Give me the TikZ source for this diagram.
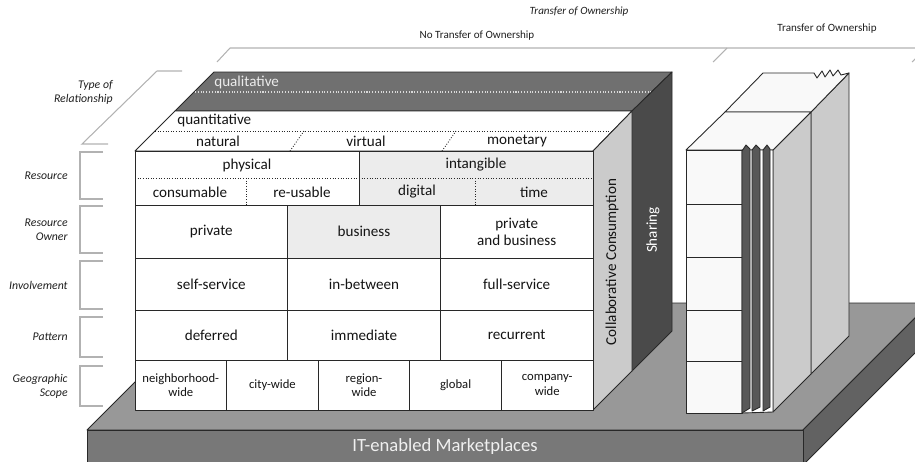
\documentclass[tikz,border=0pt]{standalone}
\usepackage{fontspec}
\setmainfont{Carlito}
\usetikzlibrary{positioning}

\definecolor{edgegray}{RGB}{40,40,40}
\definecolor{qualgray}{RGB}{112,112,112}
\definecolor{sharegray}{RGB}{74,74,74}
\definecolor{collgray}{RGB}{203,203,203}
\definecolor{cellgray}{RGB}{236,236,236}
\definecolor{basetop}{RGB}{152,152,152}
\definecolor{basefront}{RGB}{120,120,120}
\definecolor{baseside}{RGB}{98,98,98}
\definecolor{pagegray}{RGB}{88,88,88}
\definecolor{bracegray}{RGB}{178,178,178}
\definecolor{paper}{RGB}{249,249,249}

\begin{document}
\begin{tikzpicture}[x=0.02cm, y=-0.02cm,
    face/.style={draw=edgegray, line width=0.5pt, line join=round},
    sep/.style={edgegray, line width=0.5pt, densely dotted},
    cell/.style={font=\fontsize{8.6}{9.8}\selectfont, text=black!92, align=center, inner sep=0pt},
    geo/.style={font=\fontsize{7.2}{8.2}\selectfont, text=black!92, align=center, inner sep=0pt},
    dimlabel/.style={font=\fontsize{6.7}{8}\selectfont\itshape, text=black!88, align=right, anchor=east, inner sep=0pt},
    toplabel/.style={font=\fontsize{6.3}{7.5}\selectfont, text=black!88, inner sep=0pt},
    brace/.style={bracegray, line width=0.6pt}]
    \useasboundingbox (0,0) rectangle (915,461);
    \clip (0,0) rectangle (915,461);

    % Ownership brackets along the top
    \node[toplabel, font=\fontsize{6.3}{7.5}\selectfont\itshape] (own-all) at (579,12) {Transfer of Ownership};
    \node[toplabel] (own-no) at (477,36) {No Transfer of Ownership};
    \node[toplabel] (own-yes) at (827,29) {Transfer of Ownership};
    \draw[brace] (217,62) -- (230,48) -- (926,48) -- (912,62);
    \draw[brace] (727,48) -- (713,62);

    % Dimension labels and brackets on the left
    \node[dimlabel] (dim-rel) at (113,92) {Type of\\Relationship};
    \draw[brace] (182,71) -- (157,71) -- (82,144) -- (108,144);
    \node[dimlabel] (dim-res) at (68,176) {Resource};
    \draw[brace] (103,152) -| (80,199) -- (103,199);
    \node[dimlabel] (dim-own) at (68,230) {Resource\\Owner};
    \draw[brace] (103,206) -| (80,253) -- (103,253);
    \node[dimlabel] (dim-inv) at (68,285) {Involvement};
    \draw[brace] (103,261) -| (80,309) -- (103,309);
    \node[dimlabel] (dim-pat) at (68,337) {Pattern};
    \draw[brace] (103,317) -| (80,357) -- (103,357);
    \node[dimlabel] (dim-geo) at (68,386) {Geographic\\Scope};
    \draw[brace] (103,366) -| (80,406) -- (103,406);

    % Base platform
    \draw[face, fill=basetop] (87,430) -- (803,430) -- (930,303) -- (214,303) -- cycle;
    \draw[face, fill=baseside] (803,430) -- (930,303) -- (930,338) -- (803,465) -- cycle;
    \draw[face, fill=basefront] (87,430) rectangle (803,465);
    \node[font=\fontsize{10.6}{12}\selectfont, text=white!94!black] (market) at (445,447) {IT-enabled Marketplaces};

    % Main box, back layer (Sharing)
    \draw[face, fill=qualgray] (175,111) -- (632,111) -- (672,72) -- (214,72) -- cycle;
    \draw[densely dotted, white!70!gray, line width=0.6pt] (195,92) -- (652,92);
    \draw[face, fill=sharegray] (632,111) -- (672,72) -- (672,331) -- (632,371) -- cycle;
    \node[cell, text=white!92!black, anchor=west] (qual) at (214,82) {qualitative};
    \node[cell, text=white, rotate=90] (share) at (653,230) {Sharing};

    % Main box, front layer (Collaborative Consumption)
    \draw[face, fill=white] (135,151) -- (593,151) -- (632,111) -- (175,111) -- cycle;
    \draw[face, fill=collgray] (593,151) -- (632,111) -- (632,371) -- (593,410) -- cycle;
    \draw[sep] (155,131) -- (613,131);
    \draw[sep] (290,151) -- (304,131);
    \draw[sep] (442,151) -- (456,131);
    \node[cell, anchor=west] (quant) at (177,120) {quantitative};
    \node[cell] (natural) at (218,141) {natural};
    \node[cell] (virtual) at (366,141) {virtual};
    \node[cell] (monetary) at (517,141) {monetary};
    \node[cell, rotate=90] (collab) at (612,262) {Collaborative Consumption};

    % Front face: resource rows
    \draw[face, fill=white] (135,151) rectangle (593,410);
    \draw[face, fill=cellgray] (359,151) rectangle (593,205);
    \draw[face] (135,151) rectangle (593,205);
    \draw[sep] (135,178) -- (593,178);
    \draw[sep] (246,178) -- (246,205);
    \draw[sep] (475,178) -- (475,205);
    \node[cell] (physical) at (247,165) {physical};
    \node[cell] (intangible) at (476,165) {intangible};
    \node[cell] (consumable) at (190,192) {consumable};
    \node[cell] (reusable) at (302,192) {re-usable};
    \node[cell] (digital) at (417,192) {digital};
    \node[cell] (time) at (534,192) {time};

    % Front face: owner, involvement, pattern
    \draw[face, fill=cellgray] (287.7,205) rectangle (440.3,258);
    \draw[face] (135,258) -- (593,258) (135,310) -- (593,310) (135,360) -- (593,360);
    \draw[face] (287.7,205) -- (287.7,360) (440.3,205) -- (440.3,360);
    \node[cell] (private) at (211.3,231.5) {private};
    \node[cell] (business) at (364,231.5) {business};
    \node[cell] (privbus) at (516.7,231.5) {private\\and business};
    \node[cell] (selfserv) at (211.3,284) {self-service};
    \node[cell] (between) at (364,284) {in-between};
    \node[cell] (fullserv) at (516.7,284) {full-service};
    \node[cell] (deferred) at (211.3,335) {deferred};
    \node[cell] (immediate) at (364,335) {immediate};
    \node[cell] (recurrent) at (516.7,335) {recurrent};

    % Front face: geographic scope
    \foreach \gx in {226.6,318.2,409.8,501.4} \draw[face] (\gx,360) -- (\gx,410);
    \node[geo] (neigh) at (180.8,385) {neighborhood-\\wide};
    \node[geo] (city) at (272.4,385) {city-wide};
    \node[geo] (region) at (364,385) {region-\\wide};
    \node[geo] (global) at (455.6,385) {global};
    \node[geo] (company) at (547.2,385) {company-\\wide};

    % Second box with torn pages
    \draw[face, fill=collgray] (811,112) -- (849,73) -- (849,336) -- (811,374) -- cycle;
    \draw[face, fill=collgray] (773,150) -- (811,112) -- (811,374) -- (773,412) -- cycle;
    \draw[face, fill=paper] (725,112) -- (763,73) -- (814,73) -- (817,78) -- (822,71) -- (825,77)
        -- (830,70) -- (833,76) -- (838,70) -- (841,75) -- (849,73) -- (811,112) -- cycle;
    \draw[face, fill=paper] (686,150) -- (773,150) -- (811,112) -- (725,112) -- cycle;
    \draw[face, fill=paper] (686,150) rectangle (742,413);
    \draw[face] (686,204) -- (742,204) (686,257) -- (742,257) (686,310) -- (742,310) (686,361) -- (742,361);
    \draw[face, fill=white] (742,150) -- (773,150) -- (773,412) -- (742,413) -- cycle;
    \draw[face, fill=pagegray] (742,151) -- (746,145) -- (750,149) -- (750,408) -- (742,413) -- cycle;
    \draw[face, fill=pagegray] (752,150) -- (756,145) -- (760,149) -- (760,407) -- (752,411) -- cycle;
    \draw[face, fill=pagegray] (763,150) -- (767,145) -- (770,149) -- (770,407) -- (763,411) -- cycle;
\end{tikzpicture}
\end{document}
